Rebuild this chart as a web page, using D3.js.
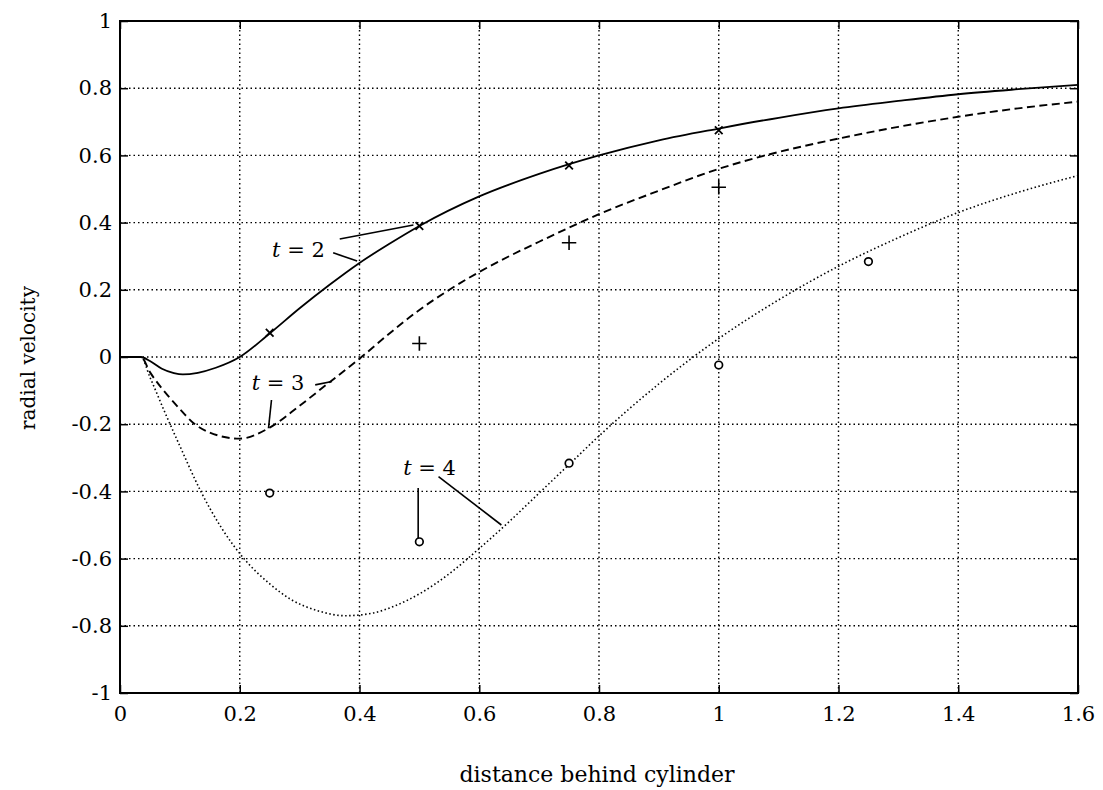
<!DOCTYPE html>
<html>
<head>
<meta charset="utf-8">
<script src="https://cdn.jsdelivr.net/npm/d3@7/dist/d3.min.js"></script>
<style>
  body { margin: 0; background: #fff; }
  svg text { font-family: "DejaVu Serif", "Liberation Serif", serif; fill: #000; }
</style>
</head>
<body>
<div id="chart"></div>
<script>
// ---- data ----
const xTicks = [0, 0.2, 0.4, 0.6, 0.8, 1, 1.2, 1.4, 1.6];
const yTicks = [-1, -0.8, -0.6, -0.4, -0.2, 0, 0.2, 0.4, 0.6, 0.8, 1];

// t = 2 (solid)
const t2X = [0, 0.035, 0.05, 0.07, 0.09, 0.105, 0.13, 0.16, 0.2, 0.25, 0.3, 0.35, 0.4, 0.45, 0.5, 0.6, 0.7, 0.8, 0.9, 1.0, 1.1, 1.2, 1.3, 1.4, 1.5, 1.6];
const t2Y = [0, 0, -0.012, -0.035, -0.048, -0.052, -0.047, -0.032, 0.0, 0.07, 0.145, 0.215, 0.28, 0.337, 0.39, 0.478, 0.545, 0.6, 0.645, 0.68, 0.712, 0.74, 0.762, 0.782, 0.797, 0.81];

// t = 3 (dashed)
const t3X = [0, 0.035, 0.05, 0.08, 0.1, 0.123, 0.15, 0.2, 0.25, 0.3, 0.35, 0.4, 0.45, 0.5, 0.55, 0.6, 0.65, 0.7, 0.75, 0.8, 0.9, 1.0, 1.1, 1.2, 1.3, 1.4, 1.5, 1.6];
const t3Y = [0, 0, -0.045, -0.115, -0.155, -0.197, -0.225, -0.243, -0.21, -0.145, -0.075, -0.005, 0.07, 0.14, 0.2, 0.253, 0.3, 0.343, 0.385, 0.425, 0.495, 0.56, 0.61, 0.65, 0.685, 0.715, 0.74, 0.76];

// t = 4 (dotted)
const t4X = [0, 0.035, 0.05, 0.075, 0.1, 0.135, 0.17, 0.207, 0.25, 0.284, 0.33, 0.376, 0.42, 0.46, 0.5, 0.55, 0.6, 0.65, 0.7, 0.75, 0.8, 0.9, 1.0, 1.1, 1.2, 1.3, 1.4, 1.5, 1.6];
const t4Y = [0, 0, -0.06, -0.165, -0.265, -0.4, -0.51, -0.6, -0.675, -0.72, -0.755, -0.77, -0.763, -0.74, -0.705, -0.645, -0.57, -0.49, -0.405, -0.32, -0.235, -0.08, 0.055, 0.17, 0.27, 0.355, 0.43, 0.49, 0.54];

// markers
const t2MarkX = [0.25, 0.5, 0.75, 1.0];
const t2MarkY = [0.072, 0.39, 0.57, 0.675];
const t3MarkX = [0.5, 0.75, 1.0];
const t3MarkY = [0.04, 0.34, 0.505];
const t4MarkX = [0.25, 0.5, 0.75, 1.0, 1.25];
const t4MarkY = [-0.405, -0.55, -0.316, -0.024, 0.284];

// labels and their pointer lines (data coords)
const labelNames = ["2", "3", "4"];
const labelX = [0.254, 0.22, 0.473];
const labelY = [0.298, -0.098, -0.351];
const pointers = [
  [[0.367, 0.351], [0.49, 0.393]],
  [[0.356, 0.31], [0.396, 0.286]],
  [[0.326, -0.083], [0.354, -0.073]],
  [[0.253, -0.128], [0.248, -0.212]],
  [[0.532, -0.356], [0.637, -0.5]],
  [[0.498, -0.39], [0.498, -0.539]]
];

// ---- layout ----
const W = 1103, H = 790;
const m = {left: 120, right: 25, top: 21, bottom: 97};
const width = W - m.left - m.right,
      height = H - m.top - m.bottom;

const svg = d3.select("#chart").append("svg")
    .attr("width", W)
    .attr("height", H);

const vis = svg.append("g")
    .attr("transform", "translate(" + m.left + "," + m.top + ")");

const x = d3.scaleLinear().domain([0, 1.6]).range([0, width]);
const y = d3.scaleLinear().domain([-1, 1]).range([height, 0]);

const fmt = (d) => String(d);

// grid
vis.append("g").selectAll("line.gx").data(xTicks.slice(1, -1)).enter().append("line")
    .attr("x1", (d) => x(d)).attr("x2", (d) => x(d))
    .attr("y1", 0).attr("y2", height)
    .attr("stroke", "#000").attr("stroke-width", 1.4)
    .attr("stroke-dasharray", "1.5,3");
vis.append("g").selectAll("line.gy").data(yTicks.slice(1, -1)).enter().append("line")
    .attr("x1", 0).attr("x2", width)
    .attr("y1", (d) => y(d)).attr("y2", (d) => y(d))
    .attr("stroke", "#000").attr("stroke-width", 1.4)
    .attr("stroke-dasharray", "1.5,3");

// axes, MATLAB style inward ticks
function styleAxis(g) {
    g.select(".domain").remove();
    g.selectAll(".tick line").attr("stroke", "#000").attr("stroke-width", 1.5);
    g.selectAll(".tick text").style("font-size", "21px");
}
vis.append("g")
    .attr("transform", "translate(0," + height + ")")
    .call(d3.axisBottom(x).tickValues(xTicks).tickFormat(fmt).tickSize(-8).tickPadding(13))
    .call(styleAxis);
vis.append("g")
    .call(d3.axisLeft(y).tickValues(yTicks).tickFormat(fmt).tickSize(-8).tickPadding(8))
    .call(styleAxis);
vis.append("g")
    .call(d3.axisTop(x).tickValues(xTicks).tickFormat("").tickSize(-8))
    .call(styleAxis);
vis.append("g")
    .attr("transform", "translate(" + width + ",0)")
    .call(d3.axisRight(y).tickValues(yTicks).tickFormat("").tickSize(-8))
    .call(styleAxis);

vis.append("rect")
    .attr("x", 0).attr("y", 0)
    .attr("width", width).attr("height", height)
    .attr("fill", "none").attr("stroke", "#000").attr("stroke-width", 2);

// curves
const line = d3.line()
    .x((d) => x(d[0]))
    .y((d) => y(d[1]))
    .curve(d3.curveMonotoneX);

const series = [
  {xs: t2X, ys: t2Y, dash: null, w: 1.8},
  {xs: t3X, ys: t3Y, dash: "8,4.5", w: 1.9},
  {xs: t4X, ys: t4Y, dash: "1.5,2.5", w: 1.6}
];
series.forEach((s) => {
    vis.append("path")
        .datum(s.xs.map((v, i) => [v, s.ys[i]]))
        .attr("d", line)
        .attr("fill", "none")
        .attr("stroke", "#000")
        .attr("stroke-width", s.w)
        .attr("stroke-dasharray", s.dash);
});

// markers
const xSym = d3.symbol().type(d3.symbolX).size(40);
const pSym = d3.symbol().type(d3.symbolCross2 || d3.symbolPlus).size(70);
vis.append("g").selectAll("path").data(t2MarkX.map((v, i) => [v, t2MarkY[i]])).enter().append("path")
    .attr("transform", (d) => "translate(" + x(d[0]) + "," + y(d[1]) + ")")
    .attr("d", xSym)
    .attr("fill", "none").attr("stroke", "#000").attr("stroke-width", 1.8);
vis.append("g").selectAll("path").data(t3MarkX.map((v, i) => [v, t3MarkY[i]])).enter().append("path")
    .attr("transform", (d) => "translate(" + x(d[0]) + "," + y(d[1]) + ")")
    .attr("d", pSym)
    .attr("fill", "none").attr("stroke", "#000").attr("stroke-width", 1.6);
vis.append("g").selectAll("circle").data(t4MarkX.map((v, i) => [v, t4MarkY[i]])).enter().append("circle")
    .attr("cx", (d) => x(d[0]))
    .attr("cy", (d) => y(d[1]))
    .attr("r", 3.8)
    .attr("fill", "#fff").attr("stroke", "#000").attr("stroke-width", 1.7);

// annotations
vis.append("g").selectAll("line").data(pointers).enter().append("line")
    .attr("x1", (d) => x(d[0][0])).attr("y1", (d) => y(d[0][1]))
    .attr("x2", (d) => x(d[1][0])).attr("y2", (d) => y(d[1][1]))
    .attr("stroke", "#000").attr("stroke-width", 1.6);

labelNames.forEach((n, i) => {
    let t = vis.append("text")
        .attr("x", x(labelX[i]))
        .attr("y", y(labelY[i]))
        .style("font-size", "21px");
    t.append("tspan").style("font-style", "italic").text("t");
    t.append("tspan").text(" = " + n);
});

// axis titles
svg.append("text")
    .attr("x", m.left + width / 2 - 2)
    .attr("y", 782)
    .attr("text-anchor", "middle")
    .style("font-size", "22px")
    .text("distance behind cylinder");

svg.append("text")
    .attr("transform", "translate(35," + (m.top + height / 2 + 1) + ") rotate(-90)")
    .attr("text-anchor", "middle")
    .style("font-size", "20px")
    .text("radial velocity");
</script>
</body>
</html>
